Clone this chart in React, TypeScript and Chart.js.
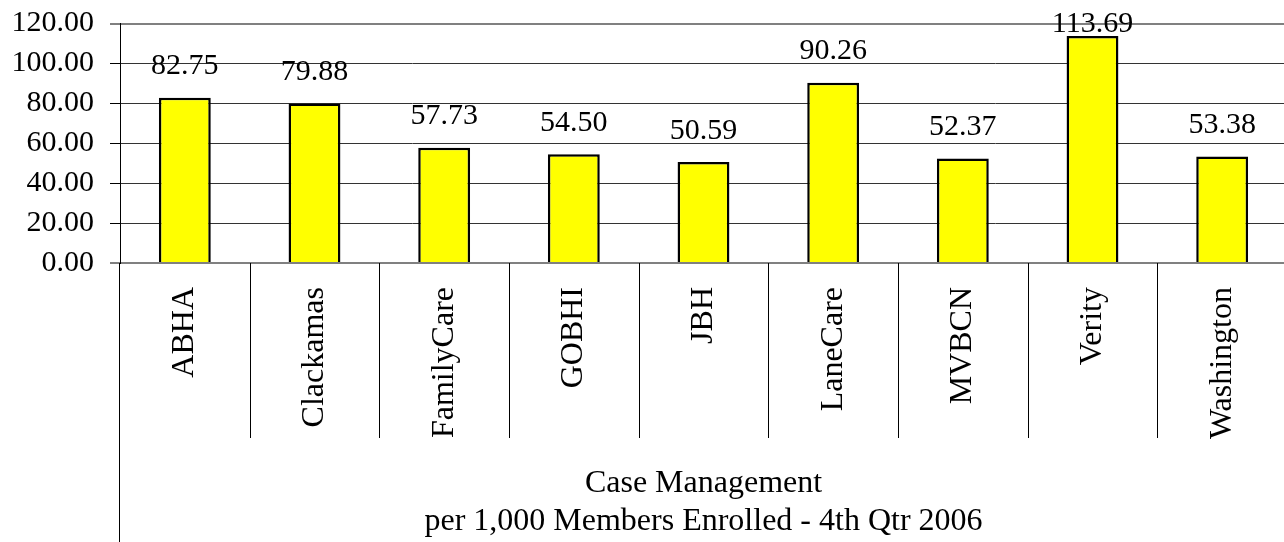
import React, { useEffect, useRef } from "react";
import { Chart, registerables } from "chart.js";

Chart.register(...registerables);

const categories = ["ABHA", "Clackamas", "FamilyCare", "GOBHI", "JBH", "LaneCare", "MVBCN", "Verity", "Washington"];
const values = [82.75, 79.88, 57.73, 54.5, 50.59, 90.26, 52.37, 113.69, 53.38];
const titleLines = ["Case Management", "per 1,000 Members Enrolled - 4th Qtr 2006"];
const yMin = 0;
const yMax = 120;
const yStep = 20;

const FONT = '"Liberation Serif", "Times New Roman", serif';

const dataLabelPlugin = {
  id: "dataLabels",
  afterDatasetsDraw(chart: any) {
    const ctx = chart.ctx;
    const meta = chart.getDatasetMeta(0);
    ctx.save();
    ctx.font = `30px ${FONT}`;
    ctx.fillStyle = "#000";
    ctx.textAlign = "center";
    ctx.textBaseline = "alphabetic";
    meta.data.forEach((bar: any, i: number) => {
      const y = Math.max(bar.y - 23.5, 32);
      ctx.fillText(values[i].toFixed(2), bar.x, y);
    });
    ctx.restore();
  },
};

const dividerPlugin = {
  id: "dividers",
  afterDraw(chart: any) {
    const ctx = chart.ctx;
    const xs = chart.scales.x;
    const area = chart.chartArea;
    const half = (xs.getPixelForValue(1) - xs.getPixelForValue(0)) / 2;
    ctx.save();
    ctx.strokeStyle = "#000";
    ctx.lineWidth = 1;
    for (let i = 1; i < categories.length; i++) {
      const x = Math.round(xs.getPixelForValue(i) - half) + 0.5;
      ctx.beginPath();
      ctx.moveTo(x, area.bottom);
      ctx.lineTo(x, area.bottom + 175);
      ctx.stroke();
    }
    const lx = Math.round(area.left) - 0.5;
    ctx.beginPath();
    ctx.moveTo(lx, area.bottom);
    ctx.lineTo(lx, chart.height);
    ctx.stroke();
    ctx.restore();
  },
};

export default function App() {
  const ref = useRef<HTMLCanvasElement | null>(null);
  useEffect(() => {
    if (!ref.current) return;
    const chart = new Chart(ref.current, {
      type: "bar",
      data: {
        labels: categories,
        datasets: [
          {
            data: values,
            backgroundColor: "#ffff00",
            borderColor: "#000",
            borderWidth: 2.5,
            barPercentage: 0.4,
            categoryPercentage: 1,
          },
        ],
      },
      options: {
        animation: false,
        responsive: false,
        devicePixelRatio: 1,
        layout: { padding: { top: 23, left: 0, right: 1, bottom: 0 } },
        plugins: { legend: { display: false }, tooltip: { enabled: false } },
        scales: {
          x: {
            type: "category",
            offset: true,
            grid: { display: false, drawTicks: false, tickLength: 0 },
            border: { display: false },
            ticks: {
              autoSkip: false,
              minRotation: 90,
              maxRotation: 90,
              padding: 24,
              color: "#000",
              font: { family: FONT, size: 32 },
            },
            title: {
              display: true,
              text: titleLines,
              color: "#000",
              font: { family: FONT, size: 32, lineHeight: 1.2 },
              padding: { top: 0, bottom: 1 },
            },
            afterFit: (s: any) => {
              s.height = 279;
            },
          },
          y: {
            min: yMin,
            max: yMax,
            ticks: {
              stepSize: yStep,
              autoSkip: false,
              callback: (v: any) => Number(v).toFixed(2),
              color: "#000",
              padding: 16,
              font: { family: FONT, size: 30, lineHeight: 0.5 },
            },
            grid: {
              color: (c: any) => (c.tick && (c.tick.value === yMin || c.tick.value === yMax) ? "#808080" : "#333"),
              lineWidth: (c: any) => (c.tick && (c.tick.value === yMin || c.tick.value === yMax) ? 2 : 1),
              tickLength: 10,
              tickColor: "#000",
              tickWidth: 1,
            },
            border: { color: "#000", width: 1 },
            afterFit: (s: any) => {
              s.width = 120;
            },
          },
        },
      },
      plugins: [dataLabelPlugin, dividerPlugin],
    });
    return () => chart.destroy();
  }, []);
  return (
    <div style={{ position: "absolute", left: 0, top: 0, width: 1284, height: 542, overflow: "hidden", background: "#fff" }}>
      <canvas ref={ref} width={1288} height={542} style={{ width: 1288, height: 542, display: "block" }} />
    </div>
  );
}
